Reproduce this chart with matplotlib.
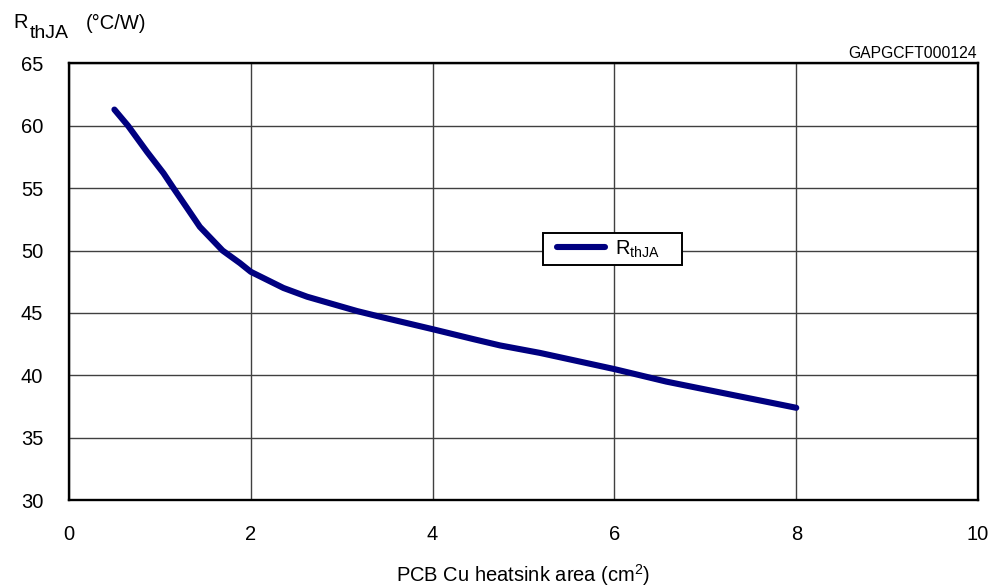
import numpy as np
import matplotlib
matplotlib.use("Agg")
import matplotlib.pyplot as plt
from matplotlib.legend_handler import HandlerLine2D

plt.rcParams['font.family'] = ['Liberation Sans', 'DejaVu Sans']
plt.rcParams['mathtext.fontset'] = 'custom'
plt.rcParams['mathtext.rm'] = 'Liberation Sans'
plt.rcParams['mathtext.it'] = 'Liberation Sans'

# PCB Cu area (cm2) vs RthJA (°C/W)
area = [0.5, 0.65, 0.86, 1.04, 1.15, 1.3, 1.44, 1.69, 1.88, 2.0, 2.36, 2.62,
        3.17, 3.42, 4.0, 4.45, 4.74, 5.18, 6.0, 6.57, 8.0]
rth = [61.3, 60.0, 57.9, 56.2, 55.0, 53.4, 51.9, 50.0, 49.0, 48.3, 47.0, 46.3,
       45.15, 44.7, 43.7, 42.9, 42.4, 41.8, 40.5, 39.5, 37.4]

xticks = [0, 2, 4, 6, 8, 10]
yticks = [30, 35, 40, 45, 50, 55, 60, 65]

W, H = 995, 587
fig = plt.figure(figsize=(W / 100, H / 100), dpi=100)
ax = fig.add_axes([0.0693, 0.148, 0.9137, 0.744])

line, = ax.plot(area, rth, color='#000080', lw=4.4, solid_capstyle='round',
                solid_joinstyle='round', label=r'$\mathrm{R_{thJA}}$    ', zorder=3)

ax.set_xlim(0, 10)
ax.set_ylim(30, 65)
ax.set_xticks(xticks)
ax.set_yticks(yticks)
ax.tick_params(length=0, labelsize=14.5)
ax.tick_params(axis='x', pad=18)
ax.tick_params(axis='y', pad=18.5)
ax.grid(True, color='#404040', lw=1.0)
for s in ax.spines.values():
    s.set_linewidth(1.7)
    s.set_color('black')

leg = ax.legend(loc='upper left', bbox_to_anchor=(0.5215, 0.611), fontsize=14.5,
                frameon=True, fancybox=False, edgecolor='black', framealpha=1,
                handlelength=2.85, borderpad=0.25, handletextpad=0.45,
                borderaxespad=0,
                handler_map={line: HandlerLine2D(xpad=0.45)})
leg.get_frame().set_linewidth(1.4)

# y axis title: R + subscript + unit
fig.text(13 / W, 1 - 28.5 / H, 'R', fontsize=14.5, va='baseline', ha='left')
fig.text(30 / W, 1 - 38 / H, 'thJA', fontsize=14, va='baseline', ha='left')
fig.text(86 / W, 1 - 29 / H, '(°C/W)', fontsize=14.5, va='baseline', ha='left')

fig.text(977 / W, 1 - 54 / H, 'GAPGCFT000124', fontsize=11.3, va='center', ha='right')
fig.text(523 / W, 1 - 575 / H, 'PCB Cu heatsink area (cm$^{2}$)', fontsize=14.5,
         ha='center', va='center')

fig.savefig('out.png', dpi=100)
